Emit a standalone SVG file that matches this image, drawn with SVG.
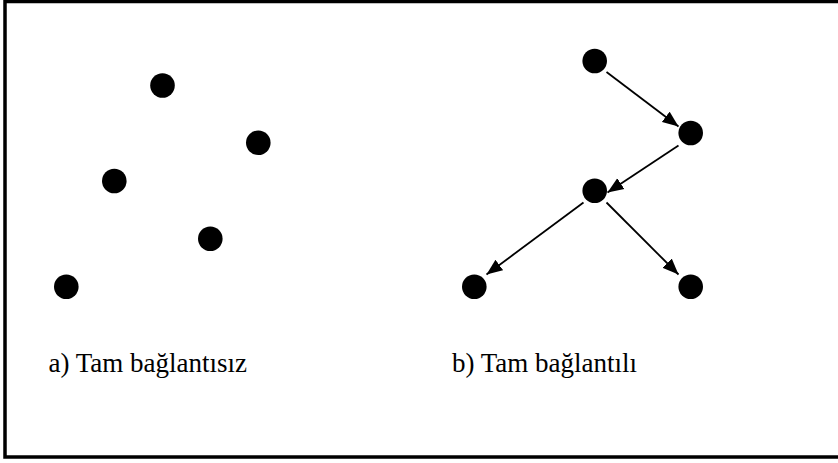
<svg xmlns="http://www.w3.org/2000/svg" width="838" height="463" viewBox="0 0 838 463">
<style>
.node{fill:#000}
.edge{stroke:#000;stroke-width:1.8;fill:none;marker-end:url(#ah)}
.lbl{font-family:"Liberation Serif","Times New Roman",serif;font-size:27px;fill:#000}
</style>
<defs>
<marker id="ah" markerUnits="userSpaceOnUse" markerWidth="18" markerHeight="14" refX="16" refY="7" orient="auto">
<path d="M0,0.5 L16,7 L0,13.5 Z" fill="#000"/>
</marker>
</defs>
<rect x="5" y="1.5" width="840" height="455.5" fill="#fff" stroke="#000" stroke-width="3.5"/>
<g id="graph-a">
<circle id="a1" class="node" cx="162.5" cy="85.5" r="12.3"/>
<circle id="a2" class="node" cx="258.3" cy="142.7" r="12.3"/>
<circle id="a3" class="node" cx="114.3" cy="181" r="12.3"/>
<circle id="a4" class="node" cx="210.3" cy="238.7" r="12.3"/>
<circle id="a5" class="node" cx="66.3" cy="286.7" r="12.3"/>
</g>
<g id="graph-b">
<circle id="b1" class="node" cx="594.7" cy="61" r="12.3"/>
<circle id="b2" class="node" cx="690.7" cy="133" r="12.3"/>
<circle id="b3" class="node" cx="594.7" cy="190.7" r="12.3"/>
<circle id="b4" class="node" cx="474.3" cy="286.7" r="12.3"/>
<circle id="b5" class="node" cx="690.7" cy="286.7" r="12.3"/>
</g>
<g id="connectors">
<line class="edge" x1="606.5" y1="72" x2="678.5" y2="126.5"/>
<line class="edge" x1="678.5" y1="145.5" x2="607.5" y2="192.5"/>
<line class="edge" x1="583.5" y1="202.5" x2="486.5" y2="274.5"/>
<line class="edge" x1="606.5" y1="202.5" x2="678.5" y2="274.5"/>
</g>
<g id="labels">
<text class="lbl" x="48.5" y="372">a) Tam bağlantısız</text>
<text class="lbl" x="452" y="372">b) Tam bağlantılı</text>
</g>
</svg>
